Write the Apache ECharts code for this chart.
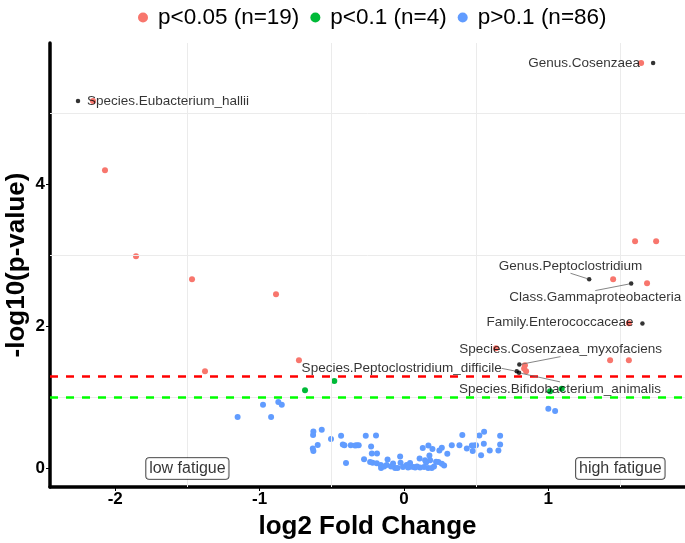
<!DOCTYPE html>
<html><head><meta charset="utf-8">
<script src="https://cdn.jsdelivr.net/npm/echarts@6/dist/echarts.min.js"></script>
<style>html,body{margin:0;padding:0;background:#fff}#c{width:685px;height:543px}</style>
</head><body><div id="c"></div>
<script>
// ---- data ----
const sigX = [-2.154, 1.644, -2.071, -1.856, -1.468, -0.886, -1.378, -0.727, 1.602, 1.748, 1.450, 1.685, 1.559, 0.639, 1.429, 1.559, 0.839, 0.847, 0.833];
const sigY = [5.169, 5.704, 4.197, 2.986, 2.662, 2.451, 1.366, 1.521, 3.197, 3.197, 2.662, 2.606, 2.042, 1.690, 1.521, 1.521, 1.451, 1.366, 1.408];
const trendX = [-0.685, -0.482, 1.013, 1.094];
const trendY = [1.099, 1.230, 1.085, 1.122];
const nsX = [-1.152, -0.976, -0.920, -0.870, -0.846, 1.001, 1.048, -0.627, -0.629, -0.569,
  -0.597, -0.631, -0.627, -0.505, -0.435, -0.423, -0.412, -0.368, -0.326, -0.313,
  -0.264, -0.193, -0.227, -0.222, -0.186, -0.276, -0.401, -0.217, -0.188, -0.160,
  -0.158, -0.113, -0.119, -0.061, -0.044, -0.026, -0.023, 0.019, 0.043, 0.066,
  0.078, 0.109, 0.112, 0.131, 0.147, 0.170, 0.177, 0.182, 0.168, 0.193,
  0.198, 0.223, 0.239, 0.263, 0.246, 0.263, 0.301, 0.332, 0.385, 0.405,
  0.436, 0.471, 0.486, 0.477, 0.500, 0.535, 0.523, 0.556, 0.554, 0.595,
  0.655, 0.667, 0.667, 0.043, -0.234, -0.089, -0.006, 0.091, 0.140, 0.209,
  -0.137, 0.029, 0.154, -0.075, 0.279, -0.338];
const nsY = [0.723, 0.897, 0.723, 0.934, 0.897, 0.841, 0.807, 0.521, 0.472, 0.545,
  0.331, 0.282, 0.244, 0.413, 0.461, 0.338, 0.328, 0.328, 0.328, 0.328,
  0.461, 0.462, 0.310, 0.211, 0.211, 0.131, 0.077, 0.080, 0.073, 0.049,
  0.007, 0.127, 0.049, 0.007, 0.007, 0.169, 0.080, 0.049, 0.024, 0.021,
  0.014, 0.141, 0.014, 0.289, 0.117, 0.324, 0.183, 0.117, 0.007, 0.007,
  0.275, 0.094, 0.092, 0.066, 0.254, 0.292, 0.207, 0.328, 0.328, 0.472,
  0.282, 0.324, 0.324, 0.244, 0.328, 0.187, 0.465, 0.517, 0.348, 0.254,
  0.254, 0.338, 0.461, 0.075, 0.092, 0.028, 0.021, 0.028, 0.021, 0.028,
  0.028, 0.014, 0.085, 0.070, 0.042, 0.324];
const labNames = ['Species.Eubacterium_hallii', 'Genus.Cosenzaea', 'Genus.Peptoclostridium',
  'Class.Gammaproteobacteria', 'Family.Enterococcaceae', 'Species.Cosenzaea_myxofaciens',
  'Species.Peptoclostridium_difficile', 'Species.Bifidobacterium_animalis'];
const labX = [-2.258, 1.727, 1.284, 1.575, 1.653, 0.800, 0.782, 0.798];
const labY = [5.169, 5.704, 2.662, 2.601, 2.038, 1.461, 1.366, 1.345];
const xTicks = [-2, -1, 0, 1];
const yTicks = [0, 2, 4];
const gridX = [-1.5, -0.5, 0.5, 1.5];
const gridY = [1, 3, 5];
const thresholds = [1.301, 1.0];
const annotX = [-1.5, 1.5];
const annotY = [0, 0];
const annotText = ['low fatigue', 'high fatigue'];

// ---- styles (label placement) ----
const labAlign = ['left', 'right', 'right', 'right', 'right', 'left', 'right', 'left'];
const labDx = [9, -13, 53, 50, -9, -60, -15, -60];
const labDy = [0, 0, -13, 14, -1, -15, -3, 16];
const labLeader = [false, false, true, true, false, true, true, true];

const FONT = 'Liberation Sans, Arial, Helvetica, sans-serif';
const zip = (a, b) => a.map((v, i) => [v, b[i]]);

const chart = echarts.init(document.getElementById('c'), null, {renderer: 'canvas'});
const option = {
  backgroundColor: '#fff',
  animation: false,
  textStyle: {fontFamily: FONT},
  grid: {left: 50, right: 0, top: 43, bottom: 56, containLabel: false, outerBoundsMode: 'none'},
  legend: {
    top: 1, left: 133, itemGap: 11, itemWidth: 10, itemHeight: 10, icon: 'circle',
    textStyle: {fontSize: 22.5, color: '#000', fontFamily: FONT, padding: [0, 0, 0, 5]},
    data: [`p<0.05 (n=${sigX.length})`, `p<0.1 (n=${trendX.length})`, `p>0.1 (n=${nsX.length})`]
  },
  xAxis: {
    type: 'value', min: -2.452, max: 1.948,
    name: 'log2 Fold Change', nameLocation: 'middle', nameGap: 27,
    nameTextStyle: {fontSize: 26, fontWeight: 'bold', color: '#000', fontFamily: FONT},
    axisLine: {show: true, onZero: false, lineStyle: {color: '#000', width: 3.5}},
    axisTick: {show: true, length: 4, customValues: xTicks, lineStyle: {color: '#000', width: 1}},
    axisLabel: {customValues: xTicks, fontSize: 17, fontWeight: 'bold', color: '#000', margin: 4, fontFamily: FONT},
    splitLine: {show: false}
  },
  yAxis: {
    type: 'value', min: -0.261, max: 5.986,
    name: '-log10(p-value)', nameLocation: 'middle', nameGap: 20, nameRotate: 90,
    nameMoveOverlap: false,
    nameTextStyle: {fontSize: 26, fontWeight: 'bold', color: '#000', fontFamily: FONT},
    axisLine: {show: true, onZero: false, lineStyle: {color: '#000', width: 3.5}},
    axisTick: {show: true, length: 4, customValues: yTicks, lineStyle: {color: '#000', width: 1}},
    axisLabel: {customValues: yTicks, fontSize: 17, fontWeight: 'bold', color: '#000', margin: 5, fontFamily: FONT},
    splitLine: {show: false}
  },
  series: [
    {
      type: 'scatter', name: 'grid', data: [], z: 1, silent: true,
      markLine: {
        silent: true, symbol: 'none', label: {show: false},
        lineStyle: {color: '#ebebeb', width: 1, type: 'solid'},
        data: gridX.map(v => ({xAxis: v})).concat(gridY.map(v => ({yAxis: v})))
      }
    },
    {
      type: 'scatter', name: `p<0.05 (n=${sigX.length})`, data: zip(sigX, sigY), z: 3,
      symbolSize: 6, itemStyle: {color: '#F8766D', opacity: 1}
    },
    {
      type: 'scatter', name: `p<0.1 (n=${trendX.length})`, data: zip(trendX, trendY), z: 3,
      symbolSize: 6, itemStyle: {color: '#00BA38', opacity: 1}
    },
    {
      type: 'scatter', name: `p>0.1 (n=${nsX.length})`, data: zip(nsX, nsY), z: 3,
      symbolSize: 6, itemStyle: {color: '#619CFF', opacity: 1}
    },
    {
      type: 'scatter', name: 'thresholds', data: [], z: 2, silent: true,
      markLine: {
        silent: true, symbol: 'none', label: {show: false},
        data: [
          {yAxis: thresholds[0], lineStyle: {color: '#FF0000', width: 2.5, type: [8, 8]}},
          {yAxis: thresholds[1], lineStyle: {color: '#00FF00', width: 2.5, type: [8, 8]}}
        ]
      }
    },
    {
      type: 'scatter', name: 'labeled', z: 5, symbolSize: 4.5,
      itemStyle: {color: '#000'},
      data: labX.map((x, i) => ({
        value: [x, labY[i]], name: labNames[i],
        labelLine: {show: labLeader[i]}
      })),
      label: {
        show: true, position: 'inside', formatter: p => p.name,
        fontSize: 13.5, color: '#000', fontFamily: FONT
      },
      labelLine: {show: true, lineStyle: {color: '#666', width: 0.8}},
      labelLayout: p => ({dx: labDx[p.dataIndex], dy: labDy[p.dataIndex], align: labAlign[p.dataIndex]})
    },
    {
      type: 'scatter', name: 'annot', z: 6, symbolSize: 0, silent: true,
      data: annotX.map((x, i) => ({value: [x, annotY[i]], name: annotText[i]})),
      label: {
        show: true, position: 'inside', formatter: p => p.name,
        fontSize: 16, color: '#000', fontFamily: FONT,
        backgroundColor: '#fff', borderColor: '#000', borderWidth: 0.8, borderRadius: 3,
        padding: [3, 3, 2, 3]
      }
    }
  ]
};
chart.setOption(option);
</script>
</body></html>
